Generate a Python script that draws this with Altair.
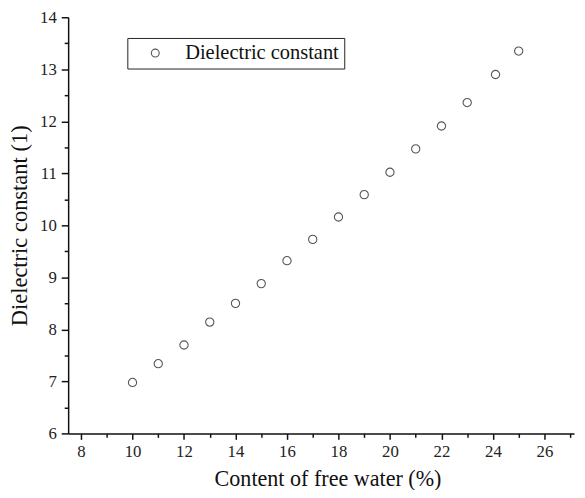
import altair as alt
import pandas as pd

water = [10, 11, 12, 13, 14, 15, 16, 17, 18, 19, 20, 21, 22, 23, 24.1, 25]
dielectric = [6.98, 7.34, 7.70, 8.14, 8.50, 8.88, 9.32, 9.73, 10.16, 10.59,
              11.02, 11.47, 11.91, 12.36, 12.90, 13.35]
series_name = "Dielectric constant"
x_major = list(range(8, 28, 2))
x_minor = list(range(9, 28, 2))
y_major = list(range(6, 15))
y_minor = [6.5 + i for i in range(8)]

df = pd.DataFrame({"water": water, "eps": dielectric, "series": [series_name] * len(water)})

FONT = "Liberation Serif"
common = dict(labelFont=FONT, labelFontSize=17, labelColor="#222", titleFont=FONT,
              titleFontWeight="normal", titleColor="#111",
              domainColor="#111", domainWidth=1.5, tickColor="#111", tickWidth=1.5, grid=False)

xs = alt.Scale(domain=[7.5, 27.15], nice=False, zero=False)
ys = alt.Scale(domain=[6, 14], nice=False, zero=False)

points = alt.Chart(df).mark_point(shape="circle", filled=False, size=70, strokeWidth=1.1, opacity=1).encode(
    x=alt.X("water:Q", scale=xs,
            axis=alt.Axis(values=x_major, title="Content of free water (%)", format="d",
                          tickSize=6, labelPadding=4, titlePadding=9, titleFontSize=22.4,
                          titleX=263, **common)),
    y=alt.Y("eps:Q", scale=ys,
            axis=alt.Axis(values=y_major, title="Dielectric constant (1)", format="d",
                          tickSize=7, labelPadding=5, titleX=-49, titleBaseline="middle",
                          titleFontSize=22.8, **common)),
    color=alt.Color("series:N", scale=alt.Scale(range=["#555555"]),
                    legend=alt.Legend(title=None, orient="none", legendX=60, legendY=21,
                                      strokeColor="#222", padding=5, symbolOffset=13,
                                      labelOffset=20, labelFont=FONT, labelFontSize=20.7,
                                      labelColor="#111", labelLimit=400, symbolSize=64,
                                      symbolStrokeWidth=1.1, symbolType="circle")),
)

minor = alt.Chart(df).mark_point(opacity=0).encode(
    x=alt.X("water:Q", scale=xs,
            axis=alt.Axis(orient="bottom", values=x_minor, labels=False, title=None, domain=False,
                          tickSize=4, tickColor="#111", tickWidth=1.5, grid=False)),
    y=alt.Y("eps:Q", scale=ys,
            axis=alt.Axis(orient="left", values=y_minor, labels=False, title=None, domain=False,
                          tickSize=4, tickColor="#111", tickWidth=1.5, grid=False)),
)

chart = alt.layer(points, minor).resolve_axis(x="independent", y="independent").properties(
    width=513, height=422,
    autosize=alt.AutoSizeParams(type="none"),
    padding={"left": 61, "top": 6, "right": 3, "bottom": 54},
).configure_view(stroke=None)

chart.save("out.html", embed_options={"renderer": "svg", "actions": False})
